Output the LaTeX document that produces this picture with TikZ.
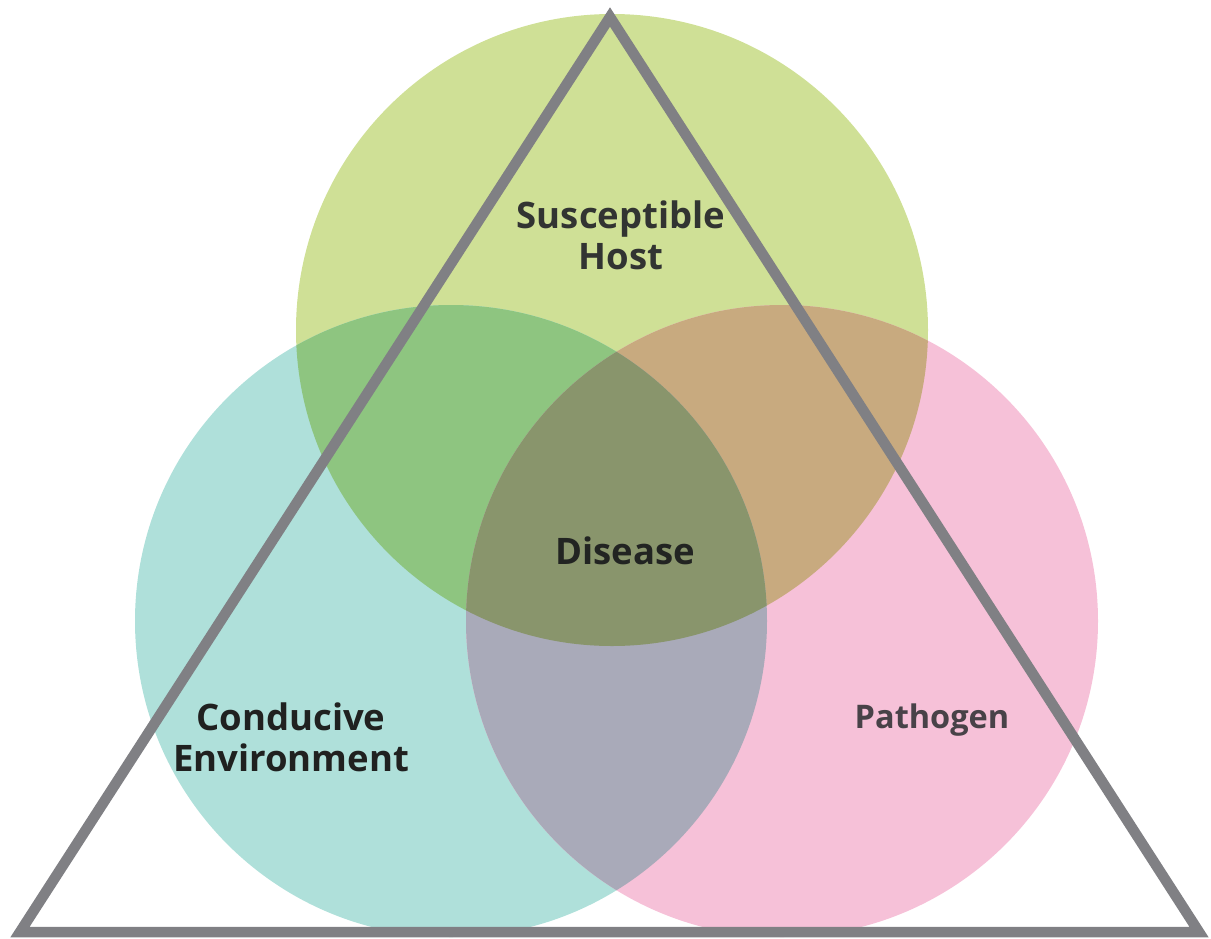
\documentclass[tikz,border=0pt]{standalone}
\usepackage{fontspec}
\setmainfont{Open Sans}
\definecolor{cG}{RGB}{207,224,150}
\definecolor{cC}{RGB}{175,224,218}
\definecolor{cP}{RGB}{246,193,216}
\definecolor{cGC}{RGB}{142,197,128}
\definecolor{cGP}{RGB}{200,170,127}
\definecolor{cCP}{RGB}{169,170,185}
\definecolor{cGCP}{RGB}{137,149,108}
\definecolor{tri}{RGB}{128,128,132}
\definecolor{txt}{RGB}{50,52,50}
\begin{document}
\begin{tikzpicture}[x=1pt,y=-1pt,
  lbl/.style={inner sep=0pt,anchor=south,text depth=0pt,align=center,font=\fontsize{36.5}{41}\selectfont\bfseries,text=txt}]
\useasboundingbox (0,0) rectangle (1211,938);
\clip (0,0) rectangle (1211,938);
\def\Gc{(612,330) circle[radius=316]}
\def\Cc{(451,621) circle[radius=316]}
\def\Pc{(782,621) circle[radius=316]}
\fill[cG] \Gc;
\fill[cC] \Cc;
\fill[cP] \Pc;
\begin{scope}\clip \Gc; \fill[cGC] \Cc; \fill[cGP] \Pc; \end{scope}
\begin{scope}\clip \Cc; \fill[cCP] \Pc; \end{scope}
\begin{scope}\clip \Gc; \clip \Cc; \fill[cGCP] \Pc; \end{scope}
\coordinate (A) at (610,17);
\coordinate (L) at (20,932);
\coordinate (R) at (1199,932);
\draw[tri,line width=10.5pt,miter limit=20] (A) -- (L) -- (R) -- cycle;
\node[lbl] (host) at (621,270) {Susceptible\\Host};
\node[lbl,text={rgb,255:red,32;green,33;blue,32}] (env) at (291,772) {Conducive\\Environment};
\node[lbl,font=\fontsize{32.5}{38}\selectfont\bfseries,text={rgb,255:red,72;green,66;blue,72}] (path) at (932,729) {Pathogen};
\node[lbl,text={rgb,255:red,34;green,36;blue,34}] (dis) at (625,565) {Disease};
\end{tikzpicture}
\end{document}
